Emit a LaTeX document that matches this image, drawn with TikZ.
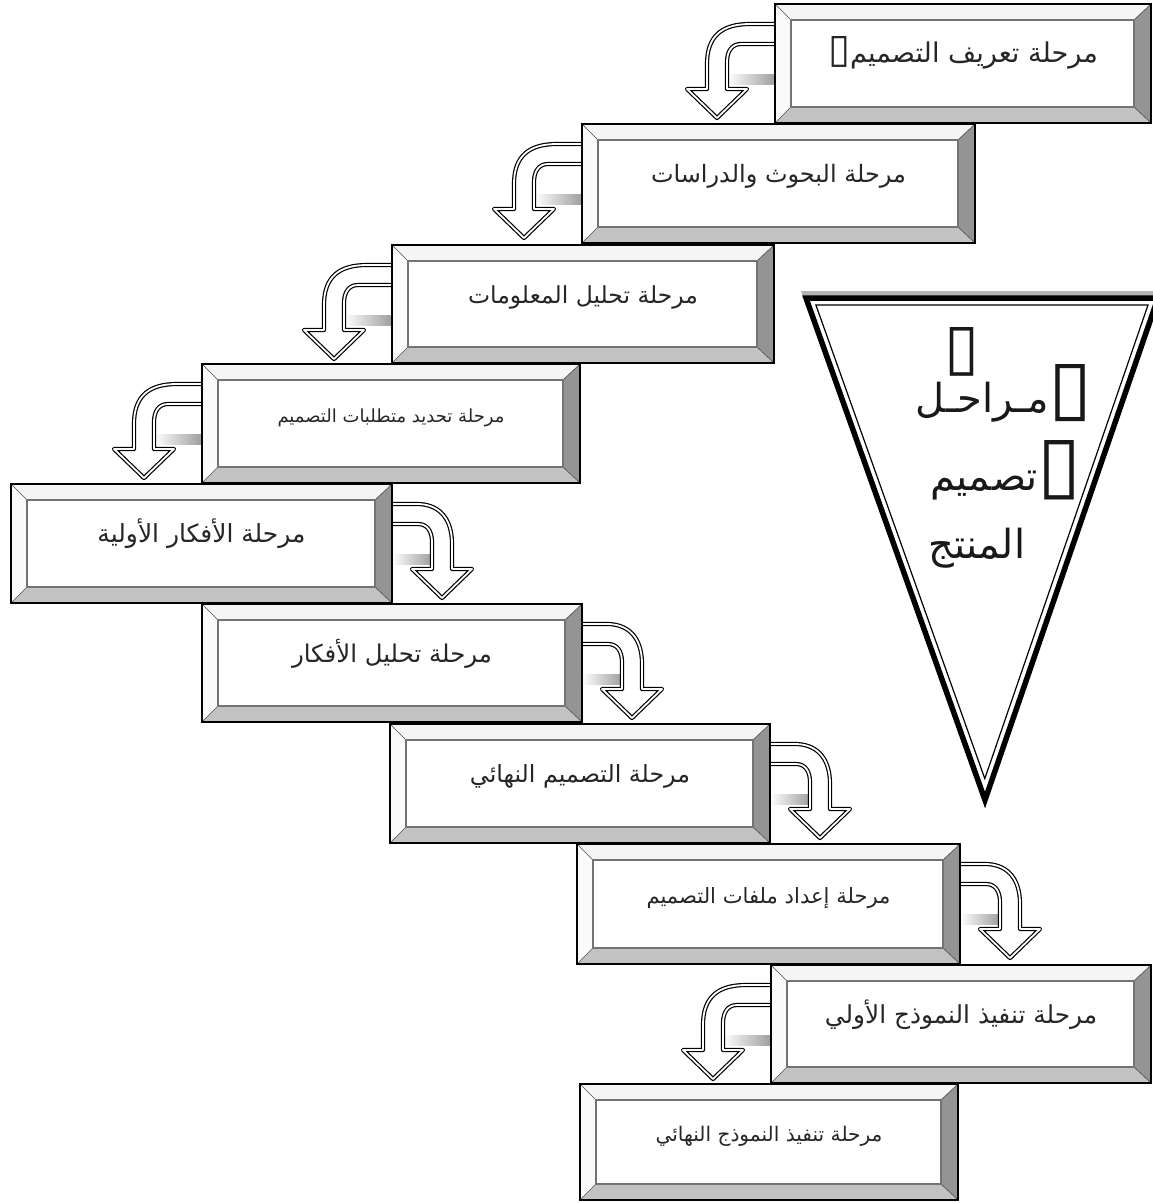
\documentclass[tikz,border=0pt]{standalone}
\usepackage{fontspec}
\usepackage{graphicx}
\usetikzlibrary{calc}
\TeXXeTstate=1
\newfontfamily\arfont[Script=Arabic]{DejaVu Sans}
\pgfdeclarelayer{background}
\pgfsetlayers{background,main}
\tikzset{
 stage/.style={draw=black, line width=1.1pt, fill=white, inner sep=0pt, outer sep=0pt, text=black!85, font=\arfont\fontsize{20}{24}\selectfont},
 bevtop/.style={fill=black!4},
 bevleft/.style={fill=black!2},
 bevright/.style={fill=black!42},
 bevbot/.style={fill=black!24},
 arrowbody/.style={fill=white, draw=black, double=white, double distance=1.8pt, line width=1.2pt, line join=round},
 tritext/.style={inner sep=0pt, text=black!90, font=\arfont\fontsize{40}{48}\selectfont},
}
\newcommand\stagebevel[1]{%
 \path (#1.north west) coordinate (bA) (#1.north east) coordinate (bB)
       (#1.south east) coordinate (bC) (#1.south west) coordinate (bD);
 \path ($(bA)+(16pt,-16pt)$) coordinate (ba) ($(bB)+(-17pt,-16pt)$) coordinate (bb)
       ($(bC)+(-17pt,16pt)$) coordinate (bc) ($(bD)+(16pt,16pt)$) coordinate (bd);
 \fill[bevtop] (bA) -- (bB) -- (bb) -- (ba) -- cycle;
 \fill[bevright] (bB) -- (bC) -- (bc) -- (bb) -- cycle;
 \fill[bevbot] (bC) -- (bD) -- (bd) -- (bc) -- cycle;
 \fill[bevleft] (bD) -- (bA) -- (ba) -- (bd) -- cycle;
 \draw[black!70, line width=0.6pt] (bA) -- (ba) (bB) -- (bb) (bC) -- (bc) (bD) -- (bd);
 \draw[black!55, line width=1.8pt] (ba) rectangle (bc);
 \draw[black, line width=1.1pt] (bA) rectangle (bC);
}
\newcommand\stagearrow[3]{%
 \begin{scope}[shift={(#1)}, xscale=#2]
  \pgfmathsetmacro\xo{-(#3+10)}
  \pgfmathsetmacro\xin{-(#3-10)}
  \shade[left color=white, right color=black!38] (\xin,70) rectangle (0,80);
  \path[arrowbody] (2,20) -- (-25,20) .. controls (-#3+5,20) and (\xo,32) .. (\xo,60)
     -- (\xo,85) -- (\xo-20,85) -- (-#3,114) -- (\xin+20,85) -- (\xin,85) -- (\xin,58)
     .. controls (\xin,47) and (\xin+5,40) .. (\xin+14,40) -- (2,40) -- cycle;
 \end{scope}}
\newcommand\stagetext[2]{\raisebox{1pt}[0pt][0pt]{\resizebox{#1pt}{!}{#2}}}
\begin{document}
\begin{tikzpicture}[x=1pt,y=-1pt]
\useasboundingbox (0,0) rectangle (1153,1203);
\clip (0,0) rectangle (1153,1203);

% stage boxes
\node[stage, minimum width=376pt, minimum height=119pt] (b1) at (963,63.5) {\raisebox{1pt}[0pt][0pt]{\resizebox{22pt}{26pt}{▯}\resizebox{248pt}{!}{\beginR مرحلة تعريف التصميم\endR}}};
\node[stage, minimum width=393pt, minimum height=119pt] (b2) at (778.5,183.5) {\stagetext{255}{\beginR مرحلة البحوث والدراسات\endR}};
\node[stage, minimum width=382pt, minimum height=118pt] (b3) at (583,304) {\stagetext{230}{\beginR مرحلة تحليل المعلومات\endR}};
\node[stage, minimum width=378pt, minimum height=119pt] (b4) at (391,423.5) {\stagetext{227}{\beginR مرحلة تحديد متطلبات التصميم\endR}};
\node[stage, minimum width=381pt, minimum height=119pt] (b5) at (201.5,543.5) {\stagetext{208}{\beginR مرحلة الأفكار الأولية\endR}};
\node[stage, minimum width=380pt, minimum height=118pt] (b6) at (392,663) {\stagetext{200}{\beginR مرحلة تحليل الأفكار\endR}};
\node[stage, minimum width=380pt, minimum height=119pt] (b7) at (580,783.5) {\stagetext{220}{\beginR مرحلة التصميم النهائي\endR}};
\node[stage, minimum width=383pt, minimum height=120pt] (b8) at (768.5,904) {\stagetext{244}{\beginR مرحلة إعداد ملفات التصميم\endR}};
\node[stage, minimum width=380pt, minimum height=118pt] (b9) at (961,1024) {\stagetext{272}{\beginR مرحلة تنفيذ النموذج الأولي\endR}};
\node[stage, minimum width=378pt, minimum height=116pt] (b10) at (769,1142) {\stagetext{227}{\beginR مرحلة تنفيذ النموذج النهائي\endR}};

\foreach \b in {b1,b2,b3,b4,b5,b6,b7,b8,b9,b10} {\stagebevel{\b}}

% connectors (U-turn arrows)
\begin{pgfonlayer}{background}
 \fill[white] (0,0) rectangle (1153,1203);
 \stagearrow{b1.north west}{1}{58}
 \stagearrow{b2.north west}{1}{58}
 \stagearrow{b3.north west}{1}{58}
 \stagearrow{b4.north west}{1}{58}
 \stagearrow{b5.north east}{-1}{50}
 \stagearrow{b6.north east}{-1}{50}
 \stagearrow{b7.north east}{-1}{50}
 \stagearrow{b8.north east}{-1}{50}
 \stagearrow{b9.north west}{1}{58}
\end{pgfonlayer}

% title triangle
\fill[black!30] (801,291) -- (1160,291) -- (982,797) -- cycle;
\fill[white] (806,298) -- (1158,298) -- (985,800) -- cycle;
\draw[line width=5.5pt, line join=miter] (806,298) -- (1158,298) -- (985,800) -- cycle;
\draw[line width=1.2pt] (815.9,305) -- (1148,305) -- (984.8,778.6) -- cycle;

\node[tritext] (t0) at (962,352) {\resizebox{35pt}{41pt}{▯}};
\node[tritext, anchor=east] (t1) at (1093,393) {\beginR مـراحـل\endR\resizebox{44pt}{48pt}{▯}};
\node[tritext, anchor=east] (t2) at (1082,470) {\beginR تصميم\endR\resizebox{44pt}{50pt}{▯}};
\node[tritext] (t3) at (977,548) {\beginR المنتج\endR};
\end{tikzpicture}
\end{document}
